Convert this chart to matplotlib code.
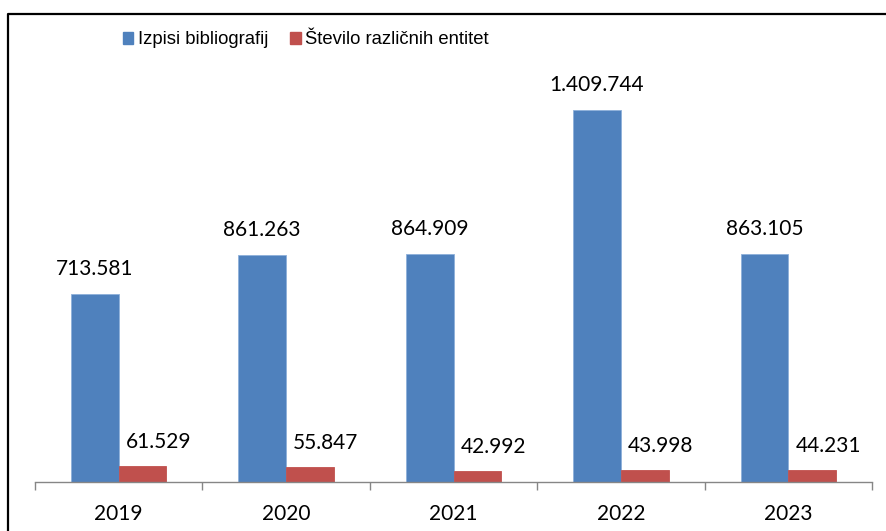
import matplotlib.pyplot as plt
import numpy as np
from matplotlib.lines import Line2D
from matplotlib.patches import Patch

W, H = 886, 531

years = ["2019", "2020", "2021", "2022", "2023"]
izpisi = [713581, 861263, 864909, 1409744, 863105]
entitete = [61529, 55847, 42992, 43998, 44231]
series_names = ["Izpisi bibliografij", "Število različnih entitet"]

blue = "#4F81BD"
red = "#C0504D"
axis_grey = "#868686"


def fmt(v):
    return f"{v:,}".replace(",", ".")


fig = plt.figure(figsize=(W / 100, H / 100), dpi=100)

# plot area in pixels: x 35..872, baseline at 482, ylim 0..1.6e6
ymax = 1.6e6
px_per_unit = 372 / 1409744
ax_h = ymax * px_per_unit
ax = fig.add_axes([35 / W, (H - 482) / H, (872 - 35) / W, ax_h / H])

x = np.arange(len(years))
bw = 0.285
ax.bar(x - bw / 2, izpisi, bw, color=blue, edgecolor="#8db0da", linewidth=0.6)
ax.bar(x + bw / 2, entitete, bw, color=red, edgecolor=red, linewidth=0.6)

lab_font = dict(family=["Lato", "DejaVu Sans"], size=15, color="black")
for xi, v in zip(x, izpisi):
    ax.annotate(fmt(v), (xi - bw / 2, v), xytext=(0, 25), textcoords="offset pixels",
                ha="center", va="center", **lab_font)
for xi, v in zip(x, entitete):
    ax.annotate(fmt(v), (xi + bw / 2, v), xytext=(16, 24), textcoords="offset pixels",
                ha="center", va="center", **lab_font)

ax.set_xlim(-0.5, len(years) - 0.5)
ax.set_ylim(0, ymax)
ax.set_yticks([])
for s in ["top", "right", "left"]:
    ax.spines[s].set_visible(False)
ax.spines["bottom"].set_color(axis_grey)
ax.spines["bottom"].set_linewidth(1.0)

ax.set_xticks(x)
ax.set_xticklabels(years, fontfamily=["Lato", "DejaVu Sans"], fontsize=15)
ax.tick_params(axis="x", which="major", length=0, pad=16)
ax.set_xticks(np.arange(-0.5, len(years), 1.0), minor=True)
ax.tick_params(axis="x", which="minor", length=6, width=1.0, color=axis_grey, direction="out")

# outer frame (only left and top edges visible)
fx = 8 / W
fy = 1 - 14 / H
fig.add_artist(Line2D([fx, fx, 1.0], [0.0, fy, fy], transform=fig.transFigure,
                      color="black", linewidth=1.6))

handles = [Patch(facecolor=blue, edgecolor=blue), Patch(facecolor=red, edgecolor=red)]
fig.legend(handles, series_names, loc="center", bbox_to_anchor=(306 / W, 1 - 40 / H),
           ncol=2, frameon=False, handlelength=0.55, handleheight=0.55,
           handletextpad=0.25, columnspacing=1.2,
           prop=dict(family=["Liberation Sans", "DejaVu Sans"], size=13.3))

fig.savefig("out.png", dpi=100)
